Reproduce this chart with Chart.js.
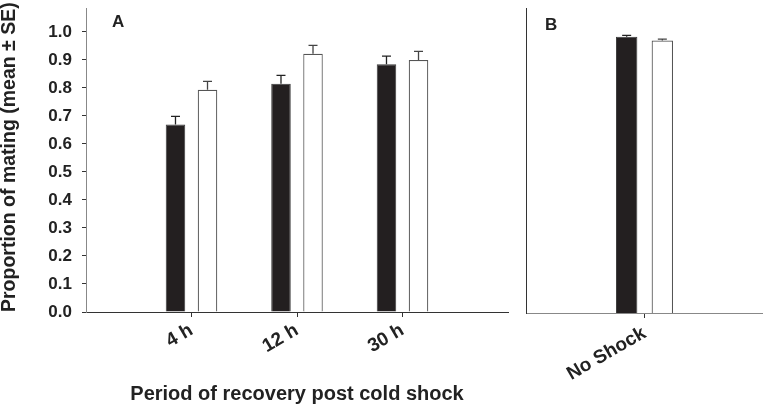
<!DOCTYPE html>
<html><head><meta charset="utf-8">
<script src="https://cdn.jsdelivr.net/npm/chart.js@4.4.1/dist/chart.umd.min.js"></script>
<style>
html,body{margin:0;padding:0;background:#fff;overflow:hidden;}
#wrap{position:relative;width:763px;height:404px;}
canvas{position:absolute;top:0;}
#cA{left:0;} #cB{left:512px;}
</style></head><body>
<div id="wrap"><canvas id="cA" width="512" height="404"></canvas><canvas id="cB" width="251" height="404"></canvas></div>
<script>
// ---- data ----
const recoveryLabels = ['4 h', '12 h', '30 h'];
const recoveryPos = [1, 2, 3];
const blackMeanA = [0.670, 0.815, 0.885];
const blackSEA = [0.029, 0.030, 0.029];
const whiteMeanA = [0.794, 0.922, 0.900];
const whiteSEA = [0.030, 0.030, 0.031];

const controlLabels = ['No Shock'];
const controlPos = [1];
const blackMeanB = [0.983];
const blackSEB = [0.005];
const whiteMeanB = [0.970];
const whiteSEB = [0.005];

const yTickValues = [0, 0.1, 0.2, 0.3, 0.4, 0.5, 0.6, 0.7, 0.8, 0.9, 1.0];
const yMax = 1.0857;

const FONT = '"Liberation Sans", Arial, Helvetica, sans-serif';
Chart.defaults.font.family = FONT;
Chart.defaults.color = '#222';

const toPoints = (pos, vals) => pos.map((p, i) => ({x: p, y: vals[i]}));

const errorBars = {
  id: 'errorBars',
  afterDatasetsDraw(chart) {
    const ctx = chart.ctx, ys = chart.scales.y;
    chart.data.datasets.forEach((ds, di) => {
      const meta = chart.getDatasetMeta(di);
      meta.data.forEach((bar, i) => {
        const yTop = ys.getPixelForValue(ds.data[i].y + ds.se[i]);
        ctx.save();
        ctx.strokeStyle = ds.errColor;
        ctx.lineWidth = 1.3;
        ctx.beginPath();
        ctx.moveTo(bar.x, bar.y);
        ctx.lineTo(bar.x, yTop);
        ctx.moveTo(bar.x - 4.5, yTop);
        ctx.lineTo(bar.x + 4.5, yTop);
        ctx.stroke();
        ctx.restore();
      });
    });
  }
};

const panelLetter = {
  id: 'panelLetter',
  afterDraw(chart, args, opts) {
    const ctx = chart.ctx, a = chart.chartArea;
    ctx.save();
    ctx.font = 'bold 17px ' + FONT;
    ctx.fillStyle = '#222';
    ctx.textBaseline = 'alphabetic';
    ctx.fillText(opts.text, a.left + opts.dx, a.top + opts.dy);
    ctx.restore();
  }
};

function makeDatasets(pos, bm, bse, wm, wse) {
  return [
    {data: toPoints(pos, bm), se: bse, backgroundColor: '#231f20', borderColor: '#3a3a3a', borderWidth: 1, errColor: '#222'},
    {data: toPoints(pos, wm), se: wse, backgroundColor: '#ffffff', borderColor: '#555', borderWidth: 1.2, errColor: '#444'}
  ];
}

const noPadX = s => { s.paddingLeft = 0; s.paddingRight = 0; };
const noPadY = s => { s.paddingTop = 0; s.paddingBottom = 0; };

// ---- Panel A ----
new Chart(document.getElementById('cA'), {
  type: 'bar',
  data: {datasets: makeDatasets(recoveryPos, blackMeanA, blackSEA, whiteMeanA, whiteSEA)},
  options: {
    responsive: false, animation: false, devicePixelRatio: 1,
    categoryPercentage: 0.607, barPercentage: 0.61,
    layout: {padding: {top: 8, right: 4, left: 0, bottom: 0}},
    plugins: {legend: {display: false}, tooltip: {enabled: false},
      panelLetter: {text: 'A', dx: 26, dy: 19}},
    scales: {
      x: {
        type: 'linear', min: 0, max: 4, offset: false,
        afterBuildTicks: s => { s.ticks = recoveryPos.map(v => ({value: v})); },
        afterFit: s => { s.height = 92; noPadX(s); },
        ticks: {
          callback: v => recoveryLabels[recoveryPos.indexOf(v)],
          minRotation: 30, maxRotation: 30, padding: 2,
          font: {size: 19, weight: 'bold'}, color: '#222'
        },
        grid: {display: true, offset: false, drawOnChartArea: false, drawTicks: true, tickLength: 5, color: '#333'},
        border: {display: true, color: '#333', width: 1},
        title: {display: true, text: 'Period of recovery post cold shock',
          font: {size: 20, weight: 'bold', lineHeight: 1.0}, color: '#222', padding: {top: 0, bottom: 0}}
      },
      y: {
        type: 'linear', min: 0, max: yMax,
        afterBuildTicks: s => { s.ticks = yTickValues.map(v => ({value: v})); },
        afterFit: s => { s.width = 86; noPadY(s); },
        ticks: {callback: v => v.toFixed(1), padding: 10, font: {size: 17, weight: 'bold'}, color: '#222'},
        grid: {display: true, offset: false, drawOnChartArea: false, drawTicks: true, tickLength: 4, color: '#333'},
        border: {display: true, color: '#888', width: 1},
        title: {display: true, align: 'start', text: 'Proportion of mating (mean \u00b1 SE)',
          font: {size: 19.5, weight: 'bold', lineHeight: 1.0}, color: '#222', padding: {top: 0, bottom: 0}}
      }
    }
  },
  plugins: [errorBars, panelLetter]
});

// ---- Panel B ----
new Chart(document.getElementById('cB'), {
  type: 'bar',
  data: {datasets: makeDatasets(controlPos, blackMeanB, blackSEB, whiteMeanB, whiteSEB)},
  options: {
    responsive: false, animation: false, devicePixelRatio: 1,
    categoryPercentage: 0.301, barPercentage: 0.6,
    layout: {padding: {top: 8, right: 0, left: 0, bottom: 0}},
    plugins: {legend: {display: false}, tooltip: {enabled: false},
      panelLetter: {text: 'B', dx: 19, dy: 22}},
    scales: {
      x: {
        type: 'linear', min: 0, max: 2, offset: false,
        afterBuildTicks: s => { s.ticks = controlPos.map(v => ({value: v})); },
        afterFit: s => { s.height = 91; noPadX(s); },
        ticks: {
          callback: v => controlLabels[controlPos.indexOf(v)],
          minRotation: 30, maxRotation: 30, padding: 4,
          font: {size: 19, weight: 'bold'}, color: '#222'
        },
        grid: {display: true, offset: false, drawOnChartArea: false, drawTicks: true, tickLength: 5, color: '#333'},
        border: {display: true, color: '#888', width: 1}
      },
      y: {
        type: 'linear', min: 0, max: yMax,
        afterBuildTicks: s => { s.ticks = yTickValues.map(v => ({value: v})); },
        afterFit: s => { s.width = 14; noPadY(s); },
        ticks: {display: false},
        grid: {display: false},
        border: {display: true, color: '#333', width: 1}
      }
    }
  },
  plugins: [errorBars, panelLetter]
});
</script>
</body></html>
